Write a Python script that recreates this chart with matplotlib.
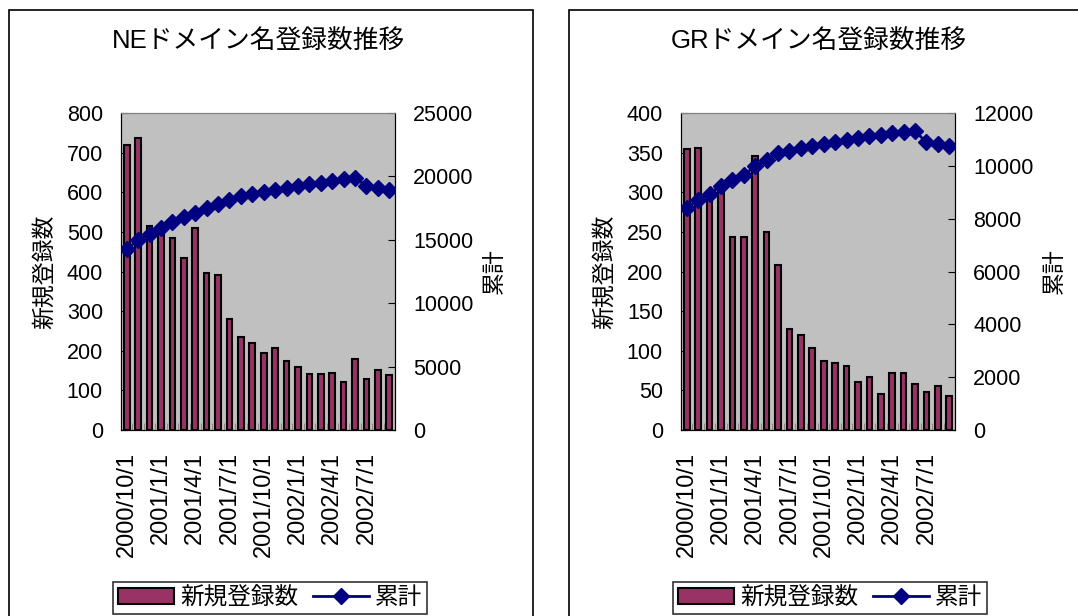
import numpy as np
import matplotlib
matplotlib.use("Agg")
import matplotlib.pyplot as plt
from matplotlib.patches import Rectangle

plt.rcParams['font.family'] = ['Liberation Sans', 'Noto Sans CJK JP', 'DejaVu Sans']

# monthly data 2000/10 .. 2002/9
date_labels = ['2000/10/1', '2001/1/1', '2001/4/1', '2001/7/1',
               '2001/10/1', '2002/1/1', '2002/4/1', '2002/7/1']

ne_new = [720, 736, 515, 500, 484, 433, 510, 396, 392, 280, 234, 219,
          195, 206, 174, 158, 141, 141, 145, 121, 178, 128, 152, 138]
ne_total = [14290, 14950, 15450, 15970, 16370, 16790, 17100, 17500, 17840, 18160, 18420, 18630,
            18790, 18950, 19100, 19260, 19370, 19500, 19600, 19790, 19870, 19260, 19100, 18950]

gr_new = [355, 356, 290, 300, 243, 244, 346, 250, 208, 128, 120, 104,
          87, 84, 81, 60, 67, 45, 72, 72, 58, 48, 56, 43]
gr_total = [8400, 8716, 8943, 9246, 9474, 9663, 9979, 10232, 10484, 10547, 10674, 10762,
            10838, 10901, 10964, 11053, 11116, 11179, 11242, 11280, 11318, 10889, 10838, 10762]

W, H = 1078, 616
fig = plt.figure(figsize=(W / 100, H / 100), dpi=100)

BAR_COLOR = '#993366'
LINE_COLOR = '#000080'


def px(x0, y0, w, h):
    # pixel box (top-left origin) -> figure fraction
    return [x0 / W, 1 - (y0 + h) / H, w / W, h / H]


def panel(x_off, title, new, total, ymax1, step1, ymax2, step2):
    # outer chart border
    fig.patches.append(Rectangle(((x_off + 9) / W, -0.02), 524 / W, (H - 10) / H + 0.02,
                                 transform=fig.transFigure, fill=False,
                                 edgecolor='black', lw=1.2, clip_on=False))
    fig.text((x_off + 259) / W, 1 - 41 / H, title, ha='center', va='center', fontsize=18.5)

    ax = fig.add_axes(px(x_off + 121, 113, 274, 317))
    ax.set_facecolor('#C0C0C0')
    x = np.arange(len(new))
    bars = ax.bar(x, new, width=0.5, color=BAR_COLOR, edgecolor='black', lw=1.5,
                  label='新規登録数', zorder=2)
    ax.set_xlim(-0.5, len(new) - 0.5)
    ax.set_ylim(0, ymax1)
    ax.set_yticks(np.arange(0, ymax1 + 1, step1))
    ax.set_xticks(x[::3])
    ax.set_xticklabels(date_labels, rotation=90, va='top', ha='center')
    ax.set_xticks(np.arange(0.5, len(new) - 1, 1), minor=True)
    ax.tick_params(axis='x', which='major', length=0, pad=16, labelsize=17)
    ax.tick_params(axis='x', which='minor', direction='in', length=5, color='#808080')
    ax.tick_params(axis='y', direction='in', length=5, pad=13, labelsize=15.5)
    ax.set_ylabel('新規登録数', fontsize=16.5, labelpad=8)
    ax.spines['top'].set_color('#808080')

    ax2 = ax.twinx()
    line, = ax2.plot(x, total, color=LINE_COLOR, lw=2, marker='D', ms=8,
                     label='累計', zorder=3)
    ax2.set_ylim(0, ymax2)
    ax2.set_yticks(np.arange(0, ymax2 + 1, step2))
    ax2.tick_params(axis='y', direction='in', length=5, pad=13, labelsize=15.5)
    ax2.set_ylabel('累計', fontsize=16.5, labelpad=7)
    ax2.spines['top'].set_color('#808080')

    leg = fig.legend([bars, line], ['新規登録数', '累計'], loc='center',
                     bbox_to_anchor=((x_off + 270) / W, 1 - 598 / H), ncol=2,
                     fontsize=17, frameon=True, fancybox=False, edgecolor='black',
                     handlelength=2.4, handletextpad=0.25, columnspacing=0.6,
                     borderpad=0.2, borderaxespad=0)
    leg.get_frame().set_linewidth(1.2)


panel(0, 'NEドメイン名登録数推移', ne_new, ne_total, 800, 100, 25000, 5000)
panel(560, 'GRドメイン名登録数推移', gr_new, gr_total, 400, 50, 12000, 2000)

fig.savefig('out.png', dpi=100)
